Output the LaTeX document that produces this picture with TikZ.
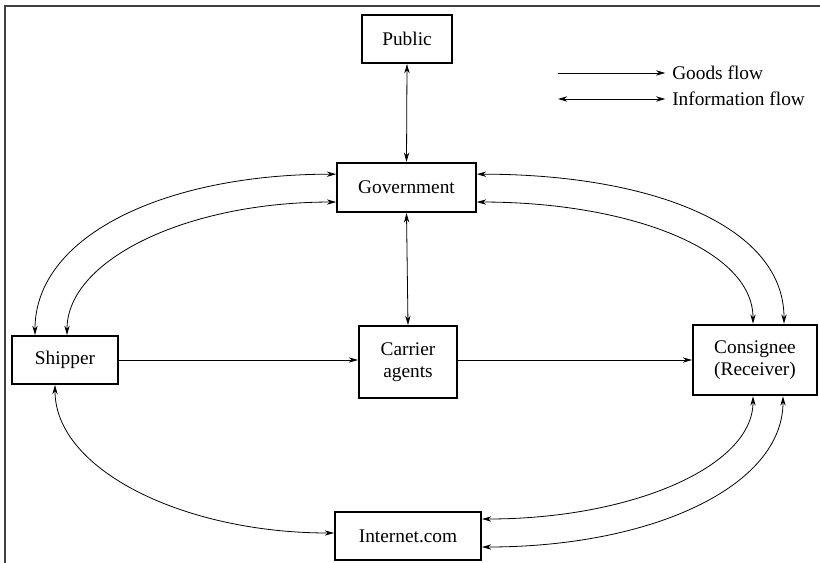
\documentclass[tikz,border=0pt]{standalone}
\usepackage{fontspec}
\setmainfont{Liberation Serif}
\usetikzlibrary{arrows.meta}
\begin{document}
\begin{tikzpicture}[x=0.75pt,y=-0.75pt,
  box/.style={draw,line width=1.5pt,inner sep=0pt,align=center,font=\fontsize{14.5pt}{16.5pt}\selectfont},
  flow/.style={line width=0.6pt,-{Stealth[length=7pt,width=4pt]}},
  info/.style={line width=0.6pt,{Stealth[length=7pt,width=4pt]}-{Stealth[length=7pt,width=4pt]}},
  legtext/.style={anchor=west,inner sep=0pt,font=\fontsize{14.5pt}{16.5pt}\selectfont}]
\useasboundingbox (0,0) rectangle (820,563);
% frame lines
\draw[line width=1.3pt,black!75] (5,563) -- (5,6) -- (820,6);

% boxes
\node[box,minimum width=67.5pt,minimum height=36pt] (pub) at (407,39) {Public};
\node[box,minimum width=104pt,minimum height=37pt] (gov) at (406.5,187.5) {Government};
\node[box,minimum width=79.5pt,minimum height=36pt] (ship) at (65,360) {Shipper};
\node[box,minimum width=73.5pt,minimum height=54pt] (car) at (408,362) {Carrier\\agents};
\node[box,minimum width=93pt,minimum height=53pt] (cons) at (755,360) {Consignee\\(Receiver)};
\node[box,minimum width=109.5pt,minimum height=36pt] (inet) at (408,536) {Internet.com};

% straight connectors
\draw[info] (pub.south) -- (gov.north);
\draw[info] (gov.south) -- (car.north);
\draw[flow] (ship.east) -- (ship.east -| car.west);
\draw[flow] (car.east |- ship.east) -- (ship.east -| cons.west);

% shipper <-> government
\draw[info] ([xshift=-22.5pt]ship.north) .. controls +(0,-100) and +(-170,0) .. ([yshift=10pt]gov.west);
\draw[info] ([xshift=1.5pt]ship.north) .. controls +(0,-75) and +(-150,0) .. ([yshift=-10.9pt]gov.west);

% government <-> consignee
\draw[info] ([yshift=10pt]gov.east) .. controls +(170,0) and +(0,-100) .. ([xshift=21.75pt]cons.north);
\draw[info] ([yshift=-10.9pt]gov.east) .. controls +(150,0) and +(0,-75) .. ([xshift=-1.5pt]cons.north);

% shipper <-> internet
\draw[info] ([xshift=-7.5pt]ship.south) .. controls +(0,85) and +(-150,0) .. ([yshift=2.25pt]inet.west);

% consignee <-> internet
\draw[info] ([xshift=-1.5pt]cons.south) .. controls +(0,70) and +(150,0) .. ([yshift=12.75pt]inet.east);
\draw[info] ([xshift=21pt]cons.south) .. controls +(0,90) and +(170,0) .. ([yshift=-8.25pt]inet.east);

% legend
\node[legtext] (lgoods) at (672,73) {Goods flow};
\node[legtext] (linfo) at (672,99) {Information flow};
\coordinate (lg0) at (558,73);
\coordinate (li0) at (558,99);
\draw[flow] (lg0) -- ([xshift=-5pt]lgoods.west);
\draw[info] (li0) -- ([xshift=-5pt]linfo.west);
\end{tikzpicture}
\end{document}
